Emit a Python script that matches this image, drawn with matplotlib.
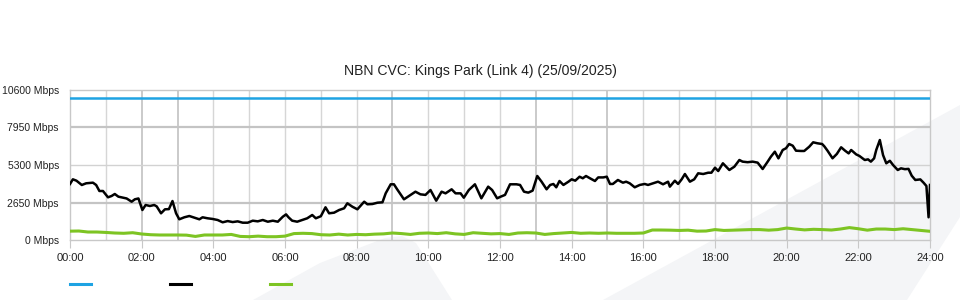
import matplotlib
matplotlib.use('Agg')
import numpy as np
import matplotlib.pyplot as plt
from matplotlib.patches import Polygon
from matplotlib.lines import Line2D

plt.rcParams['font.family'] = ['Liberation Sans', 'DejaVu Sans']

title = 'NBN CVC: Kings Park (Link 4) (25/09/2025)'
y_ticks = [0, 2650, 5300, 7950, 10600]
x_ticks = list(range(0, 25, 2))

# capacity (blue)
cap_t = [0, 24]
cap_mbps = [10000, 10000]

# traffic (black), hours / Mbps
traffic_t = [
    0.00, 0.08, 0.18, 0.33, 0.45, 0.64, 0.73, 0.82, 0.92, 1.06, 1.16, 1.25, 1.35, 1.49, 1.58,
    1.72, 1.81, 1.91, 2.02, 2.11, 2.23, 2.35, 2.42, 2.54, 2.65, 2.76, 2.86, 2.96, 3.05, 3.19,
    3.33, 3.47, 3.61, 3.70, 3.84, 3.98, 4.12, 4.26, 4.40, 4.54, 4.68, 4.82, 4.96, 5.10, 5.24,
    5.38, 5.52, 5.66, 5.80, 5.94, 6.03, 6.10, 6.20, 6.34, 6.48, 6.62, 6.76, 6.86, 7.00, 7.13,
    7.23, 7.37, 7.51, 7.65, 7.74, 7.88, 8.02, 8.21, 8.30, 8.44, 8.58, 8.72, 8.81, 8.95, 9.04,
    9.13, 9.32, 9.46, 9.64, 9.78, 9.92, 10.06, 10.22, 10.37, 10.48, 10.65, 10.76, 10.90, 10.99,
    11.13, 11.30, 11.48, 11.67, 11.78, 11.92, 12.02, 12.14, 12.28, 12.46, 12.56, 12.67, 12.79,
    12.91, 13.04, 13.16, 13.30, 13.40, 13.49, 13.57, 13.66, 13.77, 13.91, 14.00, 14.10, 14.22,
    14.31, 14.40, 14.51, 14.65, 14.74, 14.88, 14.98, 15.07, 15.15, 15.29, 15.43, 15.52, 15.62,
    15.76, 15.90, 16.04, 16.13, 16.27, 16.41, 16.55, 16.69, 16.74, 16.88, 16.97, 17.07, 17.16,
    17.30, 17.42, 17.53, 17.67, 17.81, 17.90, 18.00, 18.09, 18.22, 18.40, 18.54, 18.68, 18.77,
    18.91, 19.05, 19.19, 19.33, 19.47, 19.56, 19.67, 19.77, 19.89, 19.98, 20.07, 20.17, 20.26,
    20.40, 20.49, 20.63, 20.74, 20.86, 20.99, 21.05, 21.14, 21.28, 21.40, 21.52, 21.63, 21.73,
    21.80, 21.94, 22.03, 22.18, 22.27, 22.35, 22.44, 22.50, 22.60, 22.69, 22.78, 22.88, 22.97,
    23.10, 23.19, 23.30, 23.40, 23.49, 23.59, 23.73, 23.82, 23.90, 23.96, 24.00]
traffic_mbps = [
    3967, 4297, 4200, 3897, 4016, 4060, 3897, 3475, 3475, 3031, 3123, 3264, 3077, 3003, 2950,
    2722, 2890, 2950, 2138, 2490, 2420, 2490, 2390, 1906, 2187, 2200, 2770, 1906, 1484, 1625,
    1716, 1600, 1484, 1625, 1555, 1508, 1435, 1273, 1360, 1290, 1340, 1245, 1245, 1386, 1340,
    1435, 1315, 1386, 1315, 1667, 1830, 1620, 1386, 1315, 1435, 1555, 1787, 1555, 1700, 2328,
    1906, 1950, 2138, 2258, 2610, 2370, 2187, 2722, 2540, 2560, 2652, 2680, 3313, 3946, 3946,
    3594, 2890, 3123, 3426, 3240, 3200, 3545, 2793, 3426, 3310, 3594, 3310, 3310, 3003,
    3545, 3946, 2960, 3780, 3545, 2960, 3077, 3200, 3946, 3946, 3900, 3426, 3360,
    3500, 4530, 4130, 3594, 3900, 3967, 3735, 4178, 3900, 4130, 4297, 4200, 4480,
    4370, 4530, 4370, 4178, 4430, 4430, 4480, 3967, 3970, 4250, 4060, 4130, 4016,
    3735, 3900, 3970, 3900, 4016, 4130, 3946, 4130, 3780, 4200, 3970, 4297, 4670,
    4130, 4297, 4720, 4670, 4762, 4762, 5114, 4880, 5423, 4952, 5185, 5655, 5540,
    5500, 5540, 5470, 5022, 5540, 5888, 6240, 5770, 6360, 6478, 6780, 6660, 6310,
    6290, 6290, 6590, 6900, 6830, 6780, 6620, 6310, 5775, 6080, 6550, 6310, 6120,
    6360, 6050, 5940, 5655, 5700, 5540, 5770, 6360, 7060, 6000, 5423, 5600, 5300,
    4952, 5070, 5010, 5030, 4550, 4250, 4290, 4060, 3826, 1625, 3900]

# second series (green), one value every 15 minutes
green_mbps = [
    650, 660, 590, 590, 560, 520, 500, 540, 450, 400, 380, 380, 380, 370, 280, 380,
    380, 380, 420, 280, 260, 300, 260, 260, 300, 480, 500, 480, 400, 380, 440, 380,
    420, 400, 440, 460, 520, 480, 420, 500, 520, 480, 540, 460, 420, 540, 500, 460,
    480, 420, 520, 540, 520, 420, 480, 520, 560, 500, 520, 500, 520, 500, 500, 500,
    520, 730, 730, 720, 700, 720, 650, 660, 760, 700, 720, 740, 760, 760, 720, 760,
    870, 800, 740, 780, 760, 730, 800, 900, 820, 720, 800, 800, 760, 820, 760, 700,
    640]
green_t = np.linspace(0, 24, len(green_mbps))

W, H = 960, 300
fig = plt.figure(figsize=(W / 100, H / 100), dpi=100)
fig.patch.set_facecolor('white')

# faint watermark shapes behind the chart (pixel coords, y from top)
shapes = [
    [(253, 300), (320, 263), (385, 238), (402, 236), (416, 243), (452, 300)],
    [(603, 300), (960, 105), (960, 217), (907, 300)],
]
for pts in shapes:
    fig.patches.append(Polygon([(x / W, 1 - y / H) for x, y in pts], closed=True,
                               transform=fig.transFigure, facecolor='#f4f5f7',
                               edgecolor='none', zorder=-5))

ax = fig.add_axes([70 / W, 59.6 / H, 860 / W, 150.7 / H])
ax.set_zorder(1)
ax.set_facecolor('none')
ax.set_xlim(0, 24)
ax.set_ylim(0, 10600)

# grid
dark_hours = [2, 3, 9, 13, 15, 20, 21]
for h in range(1, 24):
    if h in dark_hours:
        ax.axvline(h, color='#cacaca', lw=1.4, zorder=1)
    else:
        ax.axvline(h, color='#d6d6d6', lw=1.0, zorder=1)
for v in y_ticks[1:-1]:
    if v == 5300:
        ax.axhline(v, color='#d2d2d2', lw=1.0, zorder=1)
    else:
        ax.axhline(v, color='#c4c4c4', lw=1.6, zorder=1)
for s in ax.spines.values():
    s.set_color('#c8c8c8')
    s.set_linewidth(1.0)

ax.plot(cap_t, cap_mbps, color='#1ea3e3', lw=1.8, zorder=3)
ax.plot(green_t, green_mbps, color='#7dc423', lw=2.2, zorder=3)
ax.plot(traffic_t, traffic_mbps, color='black', lw=1.8, zorder=4)

ax.set_xticks(x_ticks)
ax.set_xticklabels([f'{h:02d}:00' for h in x_ticks])
ax.set_yticks(y_ticks)
ax.set_yticklabels([f'{v} Mbps' for v in y_ticks])
ax.tick_params(axis='x', length=6, color='#c8c8c8', pad=3, labelsize=8, labelcolor='#222222')
ax.tick_params(axis='y', length=0, pad=8, labelsize=7.5, labelcolor='#222222')

fig.text(0.5, 1 - 71 / H, title, ha='center', va='center', fontsize=10.1, color='#222222')

handles = [Line2D([], [], color=c, lw=2.2) for c in ['#1ea3e3', 'black', '#7dc423']]
fig.legend(handles, ['', '', ''], loc='center left', bbox_to_anchor=(70 / W, 15 / H),
           ncol=3, frameon=False, handlelength=1.9, handletextpad=0, columnspacing=7.1,
           borderpad=0, borderaxespad=0, fontsize=8)

fig.savefig('out.png', dpi=100)
